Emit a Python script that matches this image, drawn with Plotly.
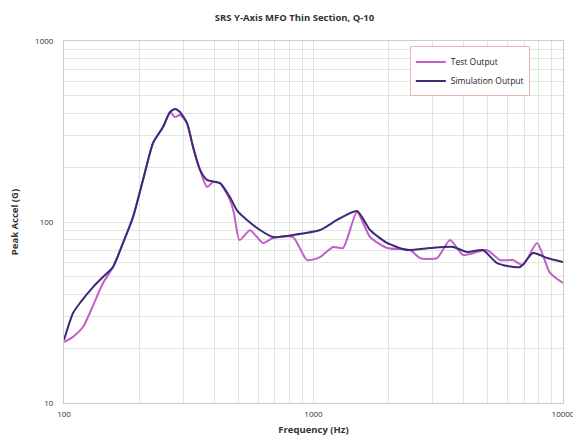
import plotly.graph_objects as go

# Test output (magenta)
test_freq = [100, 108.7, 119.2, 130.7, 143.3, 157.2, 172.4, 189.1, 207.4, 227.4, 249.4, 266, 278.6,
             291.7, 311.2, 328.9, 350.9, 374.2, 395.6, 422, 462.8, 480, 505, 556.6, 627.5, 688.1, 827.7,
             941.7, 1062, 1198, 1313, 1494, 1685, 1971, 2437, 2673, 3126, 3525, 3974, 4520, 4958,
             5590, 6303, 6914, 7866, 8869, 10000]
test_vals = [21.7, 23.2, 26.3, 34.5, 46.0, 56.4, 76.6, 106.6, 171, 273, 335, 405, 380,
             390, 352, 260, 194, 156, 166, 164, 132, 112, 79.5, 90, 76.6, 81.6, 82.6,
             61.6, 64.0, 72.8, 71.8, 113.5, 82.6, 71.8, 70.0, 63.2, 63.2, 79.5, 65.7, 68.3, 70.0,
             61.6, 61.6, 57.8, 76.6, 52.3, 46.0]

# Simulation output (dark indigo)
sim_freq = [100, 108.7, 115.9, 130.7, 143.3, 157.2, 172.4, 189.1, 207.4, 227.4, 249.4, 266, 278.6,
            291.7, 311.2, 328.9, 350.9, 374.2, 422, 462.8, 493.6, 541.4, 610.4, 688.1, 827.7, 1062,
            1243, 1494, 1685, 1971, 2370, 2931, 3624, 4122, 4778, 5439, 6725, 7582, 8627, 10000]
sim_vals = [22.3, 31.4, 35.7, 43.7, 49.7, 56.4, 76.6, 106.6, 171, 273, 335, 405, 421,
            405, 352, 260, 194, 171, 164, 137, 116, 102.6, 90.3, 82.6, 84.8, 90.3,
            102.6, 115, 90.3, 76.6, 70.0, 71.8, 72.8, 68.3, 70.0, 59.3, 56.4, 67.4, 63.2, 60.1]

title_text = "SRS Y-Axis MFO Thin Section, Q-10"
x_title = "Frequency (Hz)"
y_title = "Peak Accel (G)"

fig = go.Figure()
fig.add_trace(go.Scatter(x=test_freq, y=test_vals, mode="lines", name="Test Output",
                         line=dict(color="#c45ec8", width=2, shape="spline", smoothing=0.6)))
fig.add_trace(go.Scatter(x=sim_freq, y=sim_vals, mode="lines", name="Simulation Output",
                         line=dict(color="#3b2a78", width=2, shape="spline", smoothing=0.6)))

grid_col = "#dfe6da"
fig.update_layout(
    width=573, height=438,
    margin=dict(l=56, r=18, t=33, b=43, autoexpand=False),
    paper_bgcolor="white", plot_bgcolor="white",
    font=dict(family="Open Sans", size=8, color="#333333"),
    title=dict(text="<b>" + title_text + "</b>", x=0.5, xanchor="center", y=0.985, yanchor="top",
               font=dict(size=9.5, color="#333333"), automargin=False),
    legend=dict(x=0.693, y=0.985, xanchor="left", yanchor="top", bgcolor="white",
                bordercolor="#e8b8b0", borderwidth=1, font=dict(size=8.5, color="#222222"),
                itemwidth=30, tracegroupgap=0),
    showlegend=True,
)
fig.update_xaxes(type="log", range=[2, 4], tickvals=[100, 1000, 10000],
                 ticktext=["100", "1000", "10000"], automargin=False,
                 showgrid=True, gridcolor=grid_col, gridwidth=1,
                 minor=dict(dtick="D1", showgrid=True, gridcolor=grid_col, ticks=""),
                 showline=True, linecolor="#cccccc", mirror=True, zeroline=False,
                 ticks="", tickfont=dict(size=8), ticklabelstandoff=3,
                 title=dict(text="<b>" + x_title + "</b>", font=dict(size=9.5), standoff=8))
fig.update_yaxes(type="log", range=[1, 3], tickvals=[10, 100, 1000],
                 ticktext=["10", "100", "1000"], automargin=False,
                 showgrid=True, gridcolor=grid_col, gridwidth=1,
                 minor=dict(dtick="D1", showgrid=True, gridcolor=grid_col, ticks=""),
                 showline=True, linecolor="#cccccc", mirror=True, zeroline=False,
                 ticks="", tickfont=dict(size=8), ticklabelstandoff=8,
                 title=dict(text="<b>" + y_title + "</b>", font=dict(size=9.5), standoff=20))

fig.write_html("out.html")
